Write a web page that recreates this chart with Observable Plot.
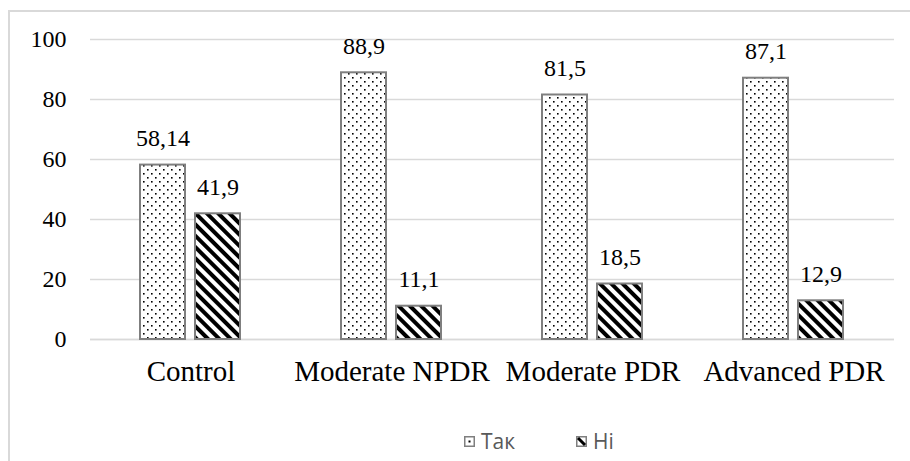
<!DOCTYPE html>
<html>
<head>
<meta charset="utf-8">
<script src="https://cdn.jsdelivr.net/npm/d3@7"></script>
<script src="https://cdn.jsdelivr.net/npm/@observablehq/plot@0.6"></script>
<style>
  html, body { margin: 0; padding: 0; background: #fff; overflow: hidden; }
  #wrap { position: relative; width: 910px; height: 461px; overflow: hidden; }
  #border { position: absolute; left: 8px; top: 10px; right: -10px; bottom: -10px; border: 2px solid #d9d9d9; }
  #chart { position: absolute; left: 0; top: 0; }
  .leg { position: absolute; top: 427px; display: flex; align-items: center; gap: 6px;
         font-family: "Open Sans", sans-serif; font-size: 21px; color: #595959; }
</style>
</head>
<body>
<div id="wrap">
  <div id="border"></div>
  <div id="chart"></div>
  <div class="leg" id="leg1" style="left:464px"></div>
  <div class="leg" id="leg2" style="left:576px"></div>
</div>
<script>
const categories = ["Control", "Moderate NPDR", "Moderate PDR", "Advanced PDR"];
const seriesNames = ["Так", "Ні"];
const takValues = [58.14, 88.9, 81.5, 87.1];
const niValues = [41.9, 11.1, 18.5, 12.9];
const yTicks = [0, 20, 40, 60, 80, 100];

const data = [];
categories.forEach((c, i) => {
  data.push({cat: c, series: seriesNames[0], value: takValues[i]});
  data.push({cat: c, series: seriesNames[1], value: niValues[i]});
});

const fmt = v => String(v).replace(".", ",");
const SERIF = "Liberation Serif";

const defs = () => {
  const g = d3.create("svg:defs");
  const p1 = g.append("pattern").attr("id", "dots").attr("patternUnits", "userSpaceOnUse")
    .attr("width", 8).attr("height", 8);
  p1.append("rect").attr("width", 8).attr("height", 8).attr("fill", "#fff");
  p1.append("rect").attr("x", 1).attr("y", 1).attr("width", 1.6).attr("height", 1.6).attr("fill", "#000");
  p1.append("rect").attr("x", 5).attr("y", 5).attr("width", 1.6).attr("height", 1.6).attr("fill", "#000");
  const p2 = g.append("pattern").attr("id", "stripes").attr("patternUnits", "userSpaceOnUse")
    .attr("width", 8).attr("height", 8).attr("patternTransform", "rotate(-45)");
  p2.append("rect").attr("width", 8).attr("height", 8).attr("fill", "#fff");
  p2.append("rect").attr("x", 0).attr("y", 0).attr("width", 4).attr("height", 8).attr("fill", "#000");
  return g.node();
};

const chart = Plot.plot({
  width: 910,
  height: 420,
  marginLeft: 88,
  marginRight: 15,
  marginTop: 39,
  marginBottom: 81,
  style: {background: "transparent", color: "#000", fontFamily: SERIF},
  fx: {domain: categories, padding: 0, label: null},
  x: {domain: seriesNames, paddingInner: 0.18, paddingOuter: 0.89, axis: null},
  y: {domain: [0, 100], label: null},
  marks: [
    defs,
    Plot.gridY(yTicks, {stroke: "#d9d9d9", strokeOpacity: 1, strokeWidth: 1.5}),
    Plot.axisY(yTicks, {tickSize: 0, tickPadding: 24, fontSize: 24, fontFamily: SERIF, label: null, tickFormat: d => d}),
    Plot.axisFx({anchor: "bottom", tickSize: 0, tickPadding: 21, fontSize: 29, fontFamily: SERIF, label: null}),
    Plot.ruleY([0], {stroke: "#d9d9d9", strokeWidth: 1.5}),
    Plot.barY(data, {fx: "cat", x: "series", y: "value",
      fill: d => d.series === seriesNames[0] ? "url(#dots)" : "url(#stripes)",
      stroke: "#7f7f7f", strokeWidth: 2}),
    Plot.text(data, {fx: "cat", x: "series", y: "value", text: d => fmt(d.value),
      lineAnchor: "bottom", dy: -19, fontSize: 24, fontFamily: SERIF, fill: "#000"})
  ]
});
document.getElementById("chart").appendChild(chart);

function swatch(kind) {
  const s = d3.create("svg").attr("width", 11).attr("height", 11);
  s.append("rect").attr("x", 0.75).attr("y", 0.75).attr("width", 9.5).attr("height", 9.5)
    .attr("fill", "#fff").attr("stroke", "#7f7f7f").attr("stroke-width", 1.5);
  if (kind === 0) {
    s.append("rect").attr("x", 4.5).attr("y", 4.5).attr("width", 2).attr("height", 2).attr("fill", "#000");
  } else {
    s.append("line").attr("x1", 2).attr("y1", 2).attr("x2", 9).attr("y2", 9)
      .attr("stroke", "#000").attr("stroke-width", 3);
  }
  return s.node();
}
[["leg1", 0], ["leg2", 1]].forEach(([id, k]) => {
  const el = document.getElementById(id);
  el.appendChild(swatch(k));
  const t = document.createElement("span");
  t.textContent = seriesNames[k];
  el.appendChild(t);
});
</script>
</body>
</html>
